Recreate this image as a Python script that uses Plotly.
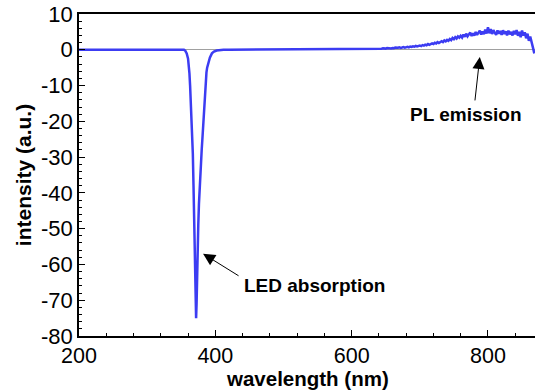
import plotly.graph_objects as go

# Absorption / emission spectrum (intensity in arbitrary units vs wavelength)
wl_flat = [200, 250, 300, 340, 350, 354]
int_flat = [0, 0, 0, 0, 0, 0]

wl_dip = [356, 358, 360, 361, 362, 363, 364, 365, 366, 367, 368, 369, 370, 371,
          371.8, 372.5, 373, 374, 375, 376, 377, 378, 379, 380, 381, 382, 383,
          384, 385, 386, 387, 388, 390, 392, 395, 398, 402, 408, 412]
int_dip = [-0.3, -1.0, -2.5, -4, -6.5, -10, -14, -18, -23, -29, -38, -50, -62, -71,
           -75, -71, -65, -56, -49, -43, -38, -34, -31, -28, -25, -21.5, -18,
           -14.5, -11, -8.2, -6.3, -5.0, -3.3, -2.2, -1.0, -0.5, -0.2, -0.05, 0]

wl_mid = [420, 440, 460, 480, 500, 520, 540, 560, 580, 590]
int_mid = [0.0, 0.02, 0.04, 0.05, 0.07, 0.09, 0.11, 0.13, 0.16, 0.18]

wl_pl = [600 + 2 * i for i in range(135)]
int_pl = [
    0.20, 0.26, 0.17, 0.22, 0.28, 0.19, 0.25, 0.21, 0.29, 0.23,
    0.27, 0.22, 0.33, 0.25, 0.30, 0.36, 0.26, 0.31, 0.38, 0.29,
    0.35, 0.41, 0.30, 0.44, 0.37, 0.33, 0.48, 0.40, 0.46, 0.38,
    0.52, 0.45, 0.60, 0.49, 0.56, 0.68, 0.54, 0.63, 0.75, 0.60,
    0.72, 0.84, 0.66, 0.90, 0.80, 0.98, 0.86, 1.10, 0.94, 1.05,
    1.20, 1.02, 1.32, 1.18, 1.45, 1.26, 1.60, 1.38, 1.55, 1.80,
    1.62, 1.95, 1.78, 2.15, 1.90, 2.05, 2.40, 2.15, 2.60, 2.35,
    2.75, 2.50, 3.00, 2.70, 3.30, 2.95, 3.50, 3.15, 3.75, 3.40,
    3.90, 3.40, 4.25, 3.65, 4.50, 3.75, 4.20, 4.80, 3.85, 4.60,
    4.00, 5.00, 4.15, 4.70, 5.35, 4.25, 5.10, 4.40, 5.60, 4.55,
    6.30, 4.60, 5.80, 4.40, 5.50, 4.70, 4.20, 5.40, 4.50, 5.25,
    4.15, 5.45, 4.40, 5.15, 4.05, 5.35, 4.30, 5.00, 4.00, 5.30,
    4.30, 5.50, 3.90, 5.05, 3.50, 5.40, 4.00, 4.90, 3.20, 4.50,
    2.50, 3.70, 1.60, 0.60, -1.00,
]

wavelength = wl_flat + wl_dip + wl_mid + wl_pl
intensity = int_flat + int_dip + int_mid + int_pl

y_ticks = list(range(-80, 11, 10))
y_ticktext = [str(v) for v in y_ticks]  # plain hyphen for negatives

FONT = "Liberation Sans, Arial, Helvetica, sans-serif"

fig = go.Figure()
fig.add_trace(go.Scatter(
    x=wavelength, y=intensity, mode="lines",
    line=dict(color="#3c3cf2", width=2.5),
    showlegend=False,
))

# arrows (tail offsets in pixels) and their labels
fig.add_annotation(x=382, y=-57, ax=37, ay=23, text="", showarrow=True,
                   arrowhead=2, arrowsize=2.4, arrowwidth=1, arrowcolor="black")
fig.add_annotation(x=546, y=-66, text="<b>LED absorption</b>", showarrow=False,
                   font=dict(family=FONT, size=19, color="black"))
fig.add_annotation(x=788, y=-2.0, ax=-5, ay=45, text="", showarrow=True,
                   arrowhead=2, arrowsize=2.4, arrowwidth=1, arrowcolor="black")
fig.add_annotation(x=768, y=-18.2, text="<b>PL emission</b>", showarrow=False,
                   font=dict(family=FONT, size=19, color="black"))

# x-axis title placed just under the tick labels
fig.add_annotation(x=0.5, y=-0.133, xref="paper", yref="paper",
                   text="<b>wavelength (nm)</b>", showarrow=False, borderpad=0,
                   xanchor="center", yanchor="middle",
                   font=dict(family=FONT, size=20.5, color="black"))

fig.update_layout(
    width=535, height=390,
    margin=dict(l=79, r=0, t=14, b=54),
    paper_bgcolor="white", plot_bgcolor="white",
    font=dict(family=FONT, size=22, color="black"),
)
fig.update_xaxes(
    range=[200, 869], tick0=200, dtick=200,
    ticks="inside", ticklen=6, tickwidth=1.2, tickcolor="black",
    minor=dict(ticks="inside", ticklen=3, dtick=40, tickcolor="black", tickwidth=1),
    showline=True, linecolor="black", linewidth=1.5, mirror=True,
    showgrid=False, zeroline=False,
    tickfont=dict(size=21.5), ticklabelstandoff=-1,
)
fig.update_yaxes(
    range=[-80, 10], tickvals=y_ticks, ticktext=y_ticktext,
    ticks="inside", ticklen=6, tickwidth=1.2, tickcolor="black",
    minor=dict(ticks="inside", ticklen=3, dtick=2, tickcolor="black", tickwidth=1),
    showline=True, linecolor="black", linewidth=1.5,
    showgrid=False, zeroline=True, zerolinecolor="#a0a0a0", zerolinewidth=1.2,
    ticklabelstandoff=0,
    title=dict(text="<b>intensity (a.u.)</b>", font=dict(size=21), standoff=4),
)

fig.write_html("out.html")
